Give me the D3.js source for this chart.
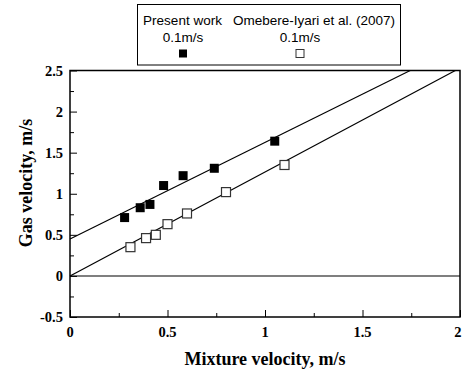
<!DOCTYPE html>
<html>
<head>
<meta charset="utf-8">
<script src="https://cdn.jsdelivr.net/npm/d3@7"></script>
<style>
  body { margin: 0; background: #fff; }
  svg { display: block; }
</style>
</head>
<body>
<div id="chart"></div>
<script>
// data
const presentX = [0.28, 0.36, 0.41, 0.48, 0.58, 0.74, 1.05];
const presentY = [0.71, 0.83, 0.87, 1.10, 1.22, 1.31, 1.64];
const omebereX = [0.31, 0.39, 0.44, 0.50, 0.60, 0.80, 1.10];
const omebereY = [0.35, 0.46, 0.50, 0.63, 0.76, 1.02, 1.35];

// fitted lines: intercept, slope
const fitIntercepts = [0.45, 0.0];
const fitSlopes = [1.175, 1.265];

const xTicks = [0, 0.5, 1, 1.5, 2];
const yTicks = [-0.5, 0, 0.5, 1, 1.5, 2, 2.5];
const legendTitles = ['Present work', 'Omebere-Iyari et al. (2007)'];
const legendSub = ['0.1m/s', '0.1m/s'];

const width = 462, height = 373;
const mLeft = 70, mRight = 460, mTop = 70.5, mBottom = 317;
const serif = 'Liberation Serif, Times New Roman, serif';
const sans = 'Liberation Sans, Arial, sans-serif';

const svg = d3.select('#chart').append('svg')
  .attr('width', width)
  .attr('height', height);

const x = d3.scaleLinear().domain([0, 2]).range([mLeft, mRight]);
const y = d3.scaleLinear().domain([-0.5, 2.5]).range([mBottom, mTop]);

// zero line
svg.append('line')
  .attr('x1', x(0)).attr('x2', x(2))
  .attr('y1', y(0)).attr('y2', y(0))
  .attr('stroke', '#555').attr('stroke-width', 1.5);

// fit lines clipped at the top of the frame
fitIntercepts.forEach((b, i) => {
  const m = fitSlopes[i];
  const xEnd = Math.min(2, (2.5 - b) / m);
  svg.append('line')
    .attr('x1', x(0)).attr('y1', y(b))
    .attr('x2', x(xEnd)).attr('y2', y(b + m * xEnd))
    .attr('stroke', '#000').attr('stroke-width', 1.2);
});

// axes (ticks inward)
const yAxis = d3.axisLeft(y).tickValues(d3.range(-0.5, 2.51, 0.25))
  .tickSizeOuter(0).tickFormat('');
const xAxis = d3.axisBottom(x).tickValues(d3.range(0, 2.01, 0.25))
  .tickSizeOuter(0).tickFormat('');

const gy = svg.append('g').attr('transform', `translate(${mLeft},0)`).call(yAxis);
const gx = svg.append('g').attr('transform', `translate(0,${mBottom})`).call(xAxis);
gy.selectAll('.tick line')
  .attr('x2', d => (Math.round(d * 4) % 2 === 0 ? 7 : 4));
gx.selectAll('.tick line')
  .attr('y2', d => (Math.round(d * 4) % 2 === 0 ? -7 : -4));
[gx, gy].forEach(g => {
  g.select('.domain').remove();
  g.selectAll('.tick line').attr('stroke', '#000').attr('stroke-width', 1);
});

// frame
svg.append('rect')
  .attr('x', mLeft).attr('y', mTop)
  .attr('width', mRight - mLeft).attr('height', mBottom - mTop)
  .attr('fill', 'none').attr('stroke', '#000').attr('stroke-width', 1.5);

// tick labels
svg.selectAll('.ylab').data(yTicks).join('text')
  .attr('class', 'ylab')
  .attr('x', 63).attr('y', d => y(d)).attr('dy', '0.35em')
  .attr('text-anchor', 'end')
  .attr('font-family', serif)
  .attr('font-weight', 'bold').attr('font-size', 14.5)
  .text(d => d);

// last label sits at the window edge, so keep it inside
svg.selectAll('.xlab').data(xTicks).join('text')
  .attr('class', 'xlab')
  .attr('x', d => (d === 2 ? width - 0.5 : x(d))).attr('y', 337)
  .attr('text-anchor', d => (d === 2 ? 'end' : 'middle'))
  .attr('font-family', serif)
  .attr('font-weight', 'bold').attr('font-size', 14.5)
  .text(d => d);

// axis titles
svg.append('text')
  .attr('x', (mLeft + mRight) / 2).attr('y', 365)
  .attr('text-anchor', 'middle')
  .attr('font-family', serif)
  .attr('font-weight', 'bold').attr('font-size', 18)
  .text('Mixture velocity, m/s');

svg.append('text')
  .attr('transform', 'translate(32,183) rotate(-90)')
  .attr('text-anchor', 'middle')
  .attr('font-family', serif)
  .attr('font-weight', 'bold').attr('font-size', 18)
  .text('Gas velocity, m/s');

// markers
const sz = 9;
svg.selectAll('.filled').data(presentX).join('rect')
  .attr('class', 'filled')
  .attr('x', d => x(d) - sz / 2)
  .attr('y', (d, i) => y(presentY[i]) - sz / 2)
  .attr('width', sz).attr('height', sz)
  .attr('fill', '#000');

svg.selectAll('.open').data(omebereX).join('rect')
  .attr('class', 'open')
  .attr('x', d => x(d) - sz / 2)
  .attr('y', (d, i) => y(omebereY[i]) - sz / 2)
  .attr('width', sz).attr('height', sz)
  .attr('fill', '#fff').attr('stroke', '#333').attr('stroke-width', 1.2);

// legend
const lg = svg.append('g');
lg.append('rect')
  .attr('x', 137.5).attr('y', 4.5).attr('width', 263).attr('height', 60.5)
  .attr('fill', '#fff').attr('stroke', '#000').attr('stroke-width', 1);

const colX = [183, 300];
lg.append('text')
  .attr('x', 182.5).attr('y', 25)
  .attr('text-anchor', 'middle')
  .attr('font-family', sans).attr('font-size', 13.5)
  .text(legendTitles[0]);
lg.append('text')
  .attr('x', 314).attr('y', 25)
  .attr('text-anchor', 'middle')
  .attr('font-family', sans).attr('font-size', 13.5)
  .text(legendTitles[1]);
legendSub.forEach((s, i) => {
  lg.append('text')
    .attr('x', colX[i]).attr('y', 42)
    .attr('text-anchor', 'middle')
    .attr('font-family', sans).attr('font-size', 13.5)
    .text(s);
});
lg.append('rect')
  .attr('x', colX[0] - 4).attr('y', 49.5).attr('width', 8).attr('height', 8)
  .attr('fill', '#000');
lg.append('rect')
  .attr('x', colX[1] - 4).attr('y', 49.5).attr('width', 8).attr('height', 8)
  .attr('fill', '#fff').attr('stroke', '#333').attr('stroke-width', 1);
</script>
</body>
</html>
